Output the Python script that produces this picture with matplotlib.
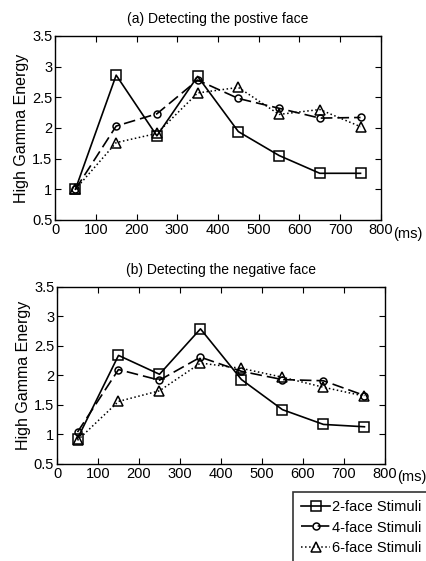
import matplotlib
matplotlib.use("Agg")
import matplotlib.pyplot as plt
from matplotlib.transforms import offset_copy

plt.rcParams['font.family'] = ['Liberation Sans Narrow', 'Liberation Sans', 'DejaVu Sans']

times = [50, 150, 250, 350, 450, 550, 650, 750]
labels = ['2-face Stimuli', '4-face Stimuli', '6-face Stimuli']

pos_2 = [1.00, 2.86, 1.87, 2.84, 1.94, 1.55, 1.26, 1.26]
pos_4 = [1.00, 2.03, 2.23, 2.78, 2.48, 2.32, 2.16, 2.17]
pos_6 = [1.00, 1.76, 1.91, 2.57, 2.66, 2.22, 2.30, 2.02]

neg_2 = [0.93, 2.34, 2.02, 2.79, 1.93, 1.42, 1.17, 1.13]
neg_4 = [1.04, 2.10, 1.92, 2.31, 2.07, 1.93, 1.91, 1.66]
neg_6 = [0.90, 1.56, 1.74, 2.21, 2.12, 1.97, 1.80, 1.65]

titles = ['(a) Detecting the postive face', '(b) Detecting the negative face']
xticks = [0, 100, 200, 300, 400, 500, 600, 700, 800]
yticks = [0.5, 1, 1.5, 2, 2.5, 3, 3.5]
yticklabels = ['0.5', '1', '1.5', '2', '2.5', '3', '3.5']

fig = plt.figure(figsize=(4.27, 5.61), dpi=100)
ax1 = fig.add_axes([0.129, 0.608, 0.763, 0.328])
ax2 = fig.add_axes([0.1335, 0.173, 0.768, 0.3155])

styles = [dict(ls='-', marker='s', ms=7, lw=1.2),
          dict(ls=(0, (7, 3)), marker='o', ms=5, lw=1.2),
          dict(ls=':', marker='^', ms=6.5, lw=1.1)]

handles = None
for ax, data, title in [(ax1, [pos_2, pos_4, pos_6], titles[0]),
                        (ax2, [neg_2, neg_4, neg_6], titles[1])]:
    hs = []
    for ys, st, lab in zip(data, styles, labels):
        h, = ax.plot(times, ys, color='black', mfc='none', mec='black',
                     mew=1.1, label=lab, **st)
        hs.append(h)
    handles = hs
    ax.set_xlim(0, 800)
    ax.set_ylim(0.5, 3.5)
    ax.set_xticks(xticks)
    ax.set_yticks(yticks)
    ax.set_yticklabels(yticklabels)
    ax.tick_params(direction='in', top=True, right=True, length=4,
                   labelsize=10.5, pad=2)
    ax.set_ylabel('High Gamma Energy', fontsize=11.5, labelpad=2)
    ax.set_title(title, fontsize=10, pad=9)
    tr = offset_copy(ax.transAxes, fig=fig, x=12, y=0, units='dots')
    ax.text(1.0, -0.075, '(ms)', transform=tr, fontsize=10.5,
            ha='left', va='center')
    for s in ax.spines.values():
        s.set_linewidth(1.0)

leg = fig.legend(handles, labels, loc='upper left',
                 bbox_to_anchor=(293 / 427, 1 - 492 / 561),
                 frameon=True, fancybox=False, edgecolor='black',
                 fontsize=10.5, handlelength=2.0, handletextpad=0.1,
                 borderpad=0.55, labelspacing=0.45, borderaxespad=0)
leg.get_frame().set_linewidth(1.2)

fig.savefig('out.png', dpi=100)
